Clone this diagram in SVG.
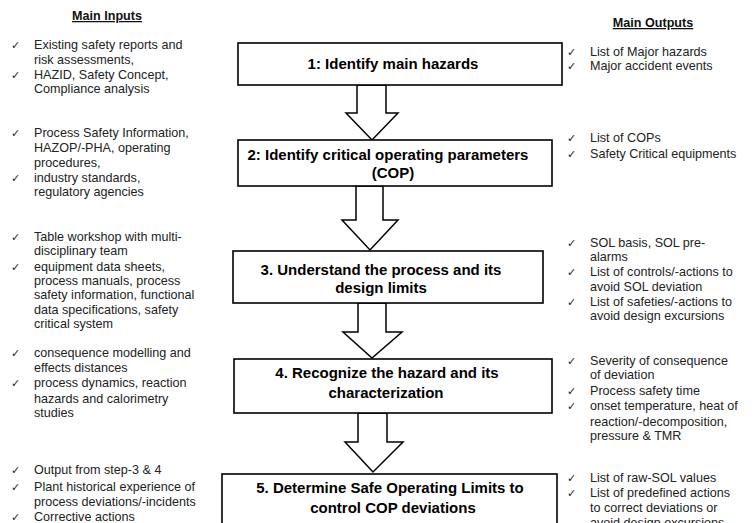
<svg xmlns="http://www.w3.org/2000/svg" width="754" height="523" viewBox="0 0 754 523">
<style>
.box{fill:#fff;stroke:#000;stroke-width:1.6}
.arr{fill:#fff;stroke:#000;stroke-width:1.5;stroke-linejoin:miter}
.bt{font-family:"Liberation Sans",Arial,sans-serif;font-weight:bold;font-size:15px;fill:#000;text-anchor:middle}
.hd{font-family:"Liberation Sans",Arial,sans-serif;font-weight:bold;font-size:12.6px;fill:#111;text-anchor:middle;text-decoration:underline}
.t{font-family:"Liberation Sans",Arial,sans-serif;font-size:12.6px;fill:#222}
.ck{font-family:"DejaVu Sans",sans-serif;font-size:11px;fill:#222}
</style>
<rect width="754" height="523" fill="#fff"/>
<g id="connectors">
<polygon class="arr" points="357,85 386,85 386,113 398,113 372,140 346,113 357,113"/>
<polygon class="arr" points="356,186 383,186 383,220 398,220 370,250 342,220 356,220"/>
<polygon class="arr" points="358,303 386,303 386,332 402,332 372,358 343,332 358,332"/>
<polygon class="arr" points="358,413 387,413 387,442 403,442 373,472 345,442 358,442"/>
</g>
<g id="step1">
<rect class="box" x="238" y="43" width="324" height="42"/>
<text class="bt" x="393" y="69">1: Identify main hazards</text>
</g>
<g id="step2">
<rect class="box" x="238" y="140" width="314" height="46"/>
<text class="bt" x="388" y="160">2: Identify critical operating parameters</text>
<text class="bt" x="393" y="178">(COP)</text>
</g>
<g id="step3">
<rect class="box" x="233" y="251" width="310" height="52"/>
<text class="bt" x="381" y="275">3. Understand the process and its</text>
<text class="bt" x="381" y="293">design limits</text>
</g>
<g id="step4">
<rect class="box" x="234" y="359" width="318" height="54"/>
<text class="bt" x="387" y="378">4. Recognize the hazard and its</text>
<text class="bt" x="386" y="398">characterization</text>
</g>
<g id="step5">
<rect class="box" x="222" y="474" width="335" height="60"/>
<text class="bt" x="390" y="493">5. Determine Safe Operating Limits to</text>
<text class="bt" x="393" y="513">control COP deviations</text>
</g>
<g id="inputs">
<text class="hd" x="107" y="20">Main Inputs</text>
<text class="ck" x="11" y="49">✓</text>
<text class="t" x="34" y="49">Existing safety reports and</text>
<text class="t" x="34" y="64">risk assessments,</text>
<text class="ck" x="11" y="79">✓</text>
<text class="t" x="34" y="79">HAZID, Safety Concept,</text>
<text class="t" x="34" y="93">Compliance analysis</text>
<text class="ck" x="11" y="137">✓</text>
<text class="t" x="34" y="137">Process Safety Information,</text>
<text class="t" x="34" y="152">HAZOP/-PHA, operating</text>
<text class="t" x="34" y="167">procedures,</text>
<text class="ck" x="11" y="182">✓</text>
<text class="t" x="34" y="182">industry standards,</text>
<text class="t" x="34" y="196">regulatory agencies</text>
<text class="ck" x="11" y="241">✓</text>
<text class="t" x="34" y="241">Table workshop with multi-</text>
<text class="t" x="34" y="255">disciplinary team</text>
<text class="ck" x="11" y="271">✓</text>
<text class="t" x="34" y="271">equipment data sheets,</text>
<text class="t" x="34" y="285">process manuals, process</text>
<text class="t" x="34" y="299">safety information, functional</text>
<text class="t" x="34" y="314">data specifications, safety</text>
<text class="t" x="34" y="328">critical system</text>
<text class="ck" x="11" y="357">✓</text>
<text class="t" x="34" y="357">consequence modelling and</text>
<text class="t" x="34" y="372">effects distances</text>
<text class="ck" x="11" y="387">✓</text>
<text class="t" x="34" y="387">process dynamics, reaction</text>
<text class="t" x="34" y="403">hazards and calorimetry</text>
<text class="t" x="34" y="417">studies</text>
<text class="ck" x="11" y="474">✓</text>
<text class="t" x="34" y="474">Output from step-3 &amp; 4</text>
<text class="ck" x="11" y="491">✓</text>
<text class="t" x="34" y="491">Plant historical experience of</text>
<text class="t" x="34" y="506">process deviations/-incidents</text>
<text class="ck" x="11" y="521">✓</text>
<text class="t" x="34" y="521">Corrective actions</text>
</g>
<g id="outputs">
<text class="hd" x="653" y="27">Main Outputs</text>
<text class="ck" x="567" y="56">✓</text>
<text class="t" x="590" y="56">List of Major hazards</text>
<text class="ck" x="567" y="70">✓</text>
<text class="t" x="590" y="70">Major accident events</text>
<text class="ck" x="567" y="142">✓</text>
<text class="t" x="590" y="142">List of COPs</text>
<text class="ck" x="567" y="158">✓</text>
<text class="t" x="590" y="158">Safety Critical equipments</text>
<text class="ck" x="567" y="247">✓</text>
<text class="t" x="590" y="247">SOL basis, SOL pre-</text>
<text class="t" x="590" y="261">alarms</text>
<text class="ck" x="567" y="276">✓</text>
<text class="t" x="590" y="276">List of controls/-actions to</text>
<text class="t" x="590" y="291">avoid SOL deviation</text>
<text class="ck" x="567" y="306">✓</text>
<text class="t" x="590" y="306">List of safeties/-actions to</text>
<text class="t" x="590" y="320">avoid design excursions</text>
<text class="ck" x="567" y="365">✓</text>
<text class="t" x="590" y="365">Severity of consequence</text>
<text class="t" x="590" y="379">of deviation</text>
<text class="ck" x="567" y="395">✓</text>
<text class="t" x="590" y="395">Process safety time</text>
<text class="ck" x="567" y="410">✓</text>
<text class="t" x="590" y="410">onset temperature, heat of</text>
<text class="t" x="590" y="426">reaction/-decomposition,</text>
<text class="t" x="590" y="440">pressure &amp; TMR</text>
<text class="ck" x="567" y="482">✓</text>
<text class="t" x="590" y="482">List of raw-SOL values</text>
<text class="ck" x="567" y="497">✓</text>
<text class="t" x="590" y="497">List of predefined actions</text>
<text class="t" x="590" y="512">to correct deviations or</text>
<text class="t" x="590" y="527">avoid design excursions</text>
</g>
</svg>
